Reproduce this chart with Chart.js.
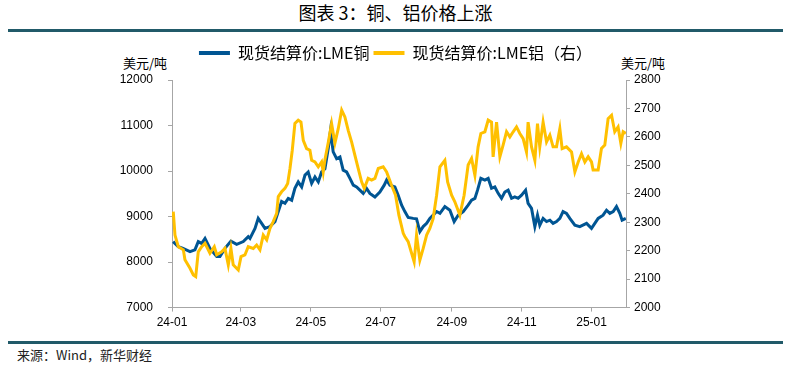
<!DOCTYPE html>
<html>
<head>
<meta charset="utf-8">
<script src="https://cdn.jsdelivr.net/npm/chart.js@4.4.1/dist/chart.umd.min.js"></script>
<style>
  body { margin: 0; background: #fff; width: 791px; height: 370px; position: relative; overflow: hidden;
         font-family: "Noto Sans CJK SC", sans-serif; color: #000; }
  #title { position: absolute; left: 0; top: 1px; width: 791px; text-align: center; font-size: 18px; line-height: 22px; }
  .rule { position: absolute; left: 8px; width: 775px; height: 3px; background: #215a69; }
  .unit { position: absolute; top: 55px; font-size: 13px; line-height: 16px; }
  #box { position: absolute; left: 0; top: 41px; width: 791px; height: 296px; }
  #src { position: absolute; left: 17px; top: 346px; font-size: 13px; line-height: 18px; color: #222; }
</style>
</head>
<body>
<div id="title">图表 3：铜、铝价格上涨</div>
<div class="rule" style="top:29px"></div>
<div class="unit" style="left:123px">美元/吨</div>
<div class="unit" style="left:621px">美元/吨</div>
<div id="box"><canvas id="myChart"></canvas></div>
<div class="rule" style="top:341px"></div>
<div id="src">来源：Wind，新华财经</div>

<script>
"use strict";

// 日期用 2024-01-01 起的天数表示
const tickDays = [0, 60, 121, 182, 244, 305, 366];
const tickLabels = ["24-01", "24-03", "24-05", "24-07", "24-09", "24-11", "25-01"];

// 现货结算价:LME铜（美元/吨）
const cuDays = [1, 5.5, 9.6, 15.7, 20, 22.9, 25.9, 28.8, 33.1, 39, 41.8, 46.2, 51.4, 56.4, 62.2, 66.5,
  68, 72.4, 75.2, 78.2, 81.1, 85.4, 89.8, 92.7, 95.6, 98.5, 101.4, 104.4, 107.2, 110.1, 113.1, 116,
  118.8, 121.8, 124.7, 127.6, 130.5, 133.4, 136.3, 138.2, 140.6, 143.6, 146.5, 149.3, 152.3, 155.2,
  158.1, 161, 163.9, 166.8, 169.7, 172.6, 177, 181.3, 185.1, 187.2, 190.1, 194.4, 197.3, 200.3, 203.1,
  206, 210.4, 213.3, 216.2, 219.1, 222.1, 224.9, 227.8, 230.8, 233.7, 238, 242.4, 246.1, 249.6, 254,
  258.3, 261.3, 264.2, 266.5, 269.4, 272.9, 275.8, 278.7, 281.6, 284.5, 287.4, 290.3, 293.2, 296.2,
  299, 301.9, 304.9, 308.4, 310.6, 313.6, 316.5, 318.8, 320.8, 323.7, 326.7, 329.6, 332.4, 335.4,
  338.3, 341.1, 344.1, 347, 351.4, 355.7, 361.6, 365.9, 368.8, 371.7, 376, 379, 381.9, 384.8, 387.7,
  390.6, 392.6, 395.8];
const cuPrice = [8450, 8340, 8300, 8230, 8270, 8450, 8410, 8520, 8300, 8120, 8120, 8300, 8460, 8390, 8450, 8560,
  8520, 8740, 8960, 8850, 8740, 8780, 8890, 9110, 9330, 9290, 9400, 9360, 9620, 9760, 9650, 9910,
  9980, 9730, 9870, 9760, 9980, 10050, 10500, 10880, 10420, 10270, 10310, 10020, 9980, 9840,
  9690, 9650, 9580, 9510, 9620, 9510, 9430, 9540, 9690, 9800, 9690, 9650, 9470, 9250, 9110,
  8980, 8960, 8950, 8670, 8780, 8850, 8960, 9030, 9110, 9070, 9220, 9140, 8890, 9030, 9110,
  9250, 9360, 9400, 9580, 9840, 9800, 9840, 9620, 9650, 9510, 9400, 9540, 9580, 9400,
  9430, 9400, 9470, 9580, 9290, 9180, 8780, 9030, 8810, 8960, 8890, 8920, 8850, 8890,
  8960, 9110, 9070, 8960, 8810, 8780, 8850, 8740, 8850, 8960, 9030, 9140, 9070, 9110, 9220,
  9070, 8920, 8960];

// 现货结算价:LME铝（美元/吨，右轴）
const alDays = [1.1, 2.6, 5.5, 9.9, 11.3, 15.7, 18.6, 20.7, 22.9, 25.9, 28.8, 33.1, 36.9, 39, 43.3, 46.2,
  49.1, 51.4, 53.4, 57.8, 60.2, 63.6, 66.5, 70.9, 73.8, 76.7, 79.6, 82.6, 85.4, 88.3, 91.3, 92.7,
  95.6, 98.5, 100.9, 102.9, 104.9, 107.2, 110.1, 112.5, 114.5, 117.4, 120.3, 121.8, 124.7, 127.6,
  130.5, 131.9, 133.4, 136.3, 139.2, 142.1, 145, 148, 150.8, 153.7, 156.7, 159.5, 162.4, 165.4,
  167.7, 171.1, 174.1, 177, 179.9, 184.2, 187.2, 191.5, 195, 197.9, 201.7, 203.1, 206, 209, 211.2,
  213.3, 216.2, 219.1, 222.1, 224.9, 227.8, 230.8, 233.7, 238, 240.4, 243.9, 246.7, 251.1, 254.8,
  258.3, 261.3, 264.2, 267, 269.4, 272.9, 275.8, 278.7, 280.1, 283.1, 286, 288.8, 291.8, 294.7,
  297.6, 300.5, 303.4, 306.3, 309.2, 310.6, 313.6, 316.5, 318.8, 320.8, 323.7, 326.7, 329.6, 332.4,
  335.4, 338.3, 340.3, 344.1, 348.5, 351.4, 354.3, 357.2, 360.1, 363, 365.9, 367.3, 371.7, 374.6,
  377.5, 380.4, 383.4, 386.2, 389.1, 391.5, 393.5, 395.8];
const alPrice = [2337, 2255, 2214, 2203, 2168, 2138, 2115, 2109, 2196, 2214, 2226, 2191, 2214, 2186, 2196, 2208,
  2150, 2208, 2150, 2132, 2179, 2185, 2214, 2208, 2220, 2203, 2255, 2238, 2278, 2302, 2331, 2390,
  2407, 2419, 2436, 2489, 2553, 2647, 2659, 2652, 2588, 2559, 2553, 2518, 2512, 2495,
  2512, 2477, 2520, 2580, 2647, 2578, 2629, 2694, 2670, 2623, 2582, 2536, 2489, 2442,
  2419, 2454, 2448, 2454, 2489, 2495, 2477, 2430, 2395, 2325, 2261, 2250, 2232, 2191, 2161,
  2255, 2167, 2208, 2255, 2278, 2313, 2395, 2495, 2518, 2442, 2395, 2372, 2325, 2395,
  2501, 2524, 2465, 2565, 2612, 2618, 2659, 2652, 2530, 2652, 2530, 2571, 2618, 2600,
  2618, 2635, 2612, 2594, 2547, 2652, 2565, 2518, 2647, 2565, 2652, 2582, 2606, 2565,
  2565, 2629, 2559, 2565, 2547, 2477, 2512, 2541, 2512, 2530, 2512, 2484, 2484, 2559,
  2571, 2664, 2676, 2618, 2635, 2577, 2618, 2612];

const toPoints = (days, vals) => days.map((d, i) => ({ x: d, y: vals[i] }));

const axisGray = "#a6a6a6";
const tickFont = { family: "'Liberation Sans', Arial, sans-serif", size: 12 };

// 图例下方多留一点空白，让绘图区从 12000 那条线开始
const legendSpace = {
  id: "legendSpace",
  afterInit(chart) {
    const fit = chart.legend.fit;
    chart.legend.fit = function () {
      fit.call(this);
      this.height += 9;
    };
  },
};

const data = {
  datasets: [
    {
      label: "现货结算价:LME铜",
      data: toPoints(cuDays, cuPrice),
      borderColor: "#005593",
      backgroundColor: "#005593",
      borderWidth: 3,
      pointRadius: 0,
      yAxisID: "y",
      order: 2,
    },
    {
      label: "现货结算价:LME铝（右）",
      data: toPoints(alDays, alPrice),
      borderColor: "#ffc000",
      backgroundColor: "#ffc000",
      borderWidth: 3,
      pointRadius: 0,
      yAxisID: "y1",
      order: 1,
    },
  ],
};

const config = {
  type: "line",
  data,
  plugins: [legendSpace],
  options: {
    responsive: true,
    maintainAspectRatio: false,
    animation: false,
    layout: { padding: { top: 0, bottom: 3, left: 0, right: 0 } },
    plugins: {
      tooltip: { enabled: false },
      legend: {
        position: "top",
        labels: {
          boxWidth: 31,
          boxHeight: 4,
          padding: 4,
          color: "#000",
          font: { family: "'Noto Sans CJK SC', sans-serif", size: 16 },
          sort: (a, b) => a.datasetIndex - b.datasetIndex,
          generateLabels: (chart) =>
            Chart.defaults.plugins.legend.labels.generateLabels(chart).map((it) => ({ ...it, lineWidth: 0 })),
        },
      },
    },
    scales: {
      x: {
        type: "linear",
        min: 0,
        max: 396,
        afterBuildTicks: (axis) => { axis.ticks = tickDays.map((v) => ({ value: v })); },
        ticks: {
          autoSkip: false,
          maxRotation: 0,
          padding: 4,
          color: "#000",
          font: tickFont,
          callback: (v) => tickLabels[tickDays.indexOf(v)] ?? "",
        },
        grid: { display: true, drawOnChartArea: false, drawTicks: true, tickLength: 4, color: axisGray },
        border: { display: true, color: axisGray, width: 1 },
      },
      y: {
        position: "left",
        min: 7000,
        max: 12000,
        ticks: { stepSize: 1000, padding: 15, color: "#000", font: tickFont, callback: (v) => String(v) },
        grid: { display: true, drawOnChartArea: false, drawTicks: true, tickLength: 4, color: axisGray },
        border: { display: true, color: axisGray, width: 1 },
        afterFit: (s) => { s.width = 172; },
      },
      y1: {
        position: "right",
        min: 2000,
        max: 2800,
        ticks: { stepSize: 100, padding: 4, color: "#000", font: tickFont, callback: (v) => String(v) },
        grid: { display: true, drawOnChartArea: false, drawTicks: true, tickLength: 4, color: axisGray },
        border: { display: true, color: axisGray, width: 1 },
        afterFit: (s) => { s.width = 165; },
      },
    },
  },
};

const myChart = new Chart(document.querySelector("#myChart"), config);
</script>
</body>
</html>
